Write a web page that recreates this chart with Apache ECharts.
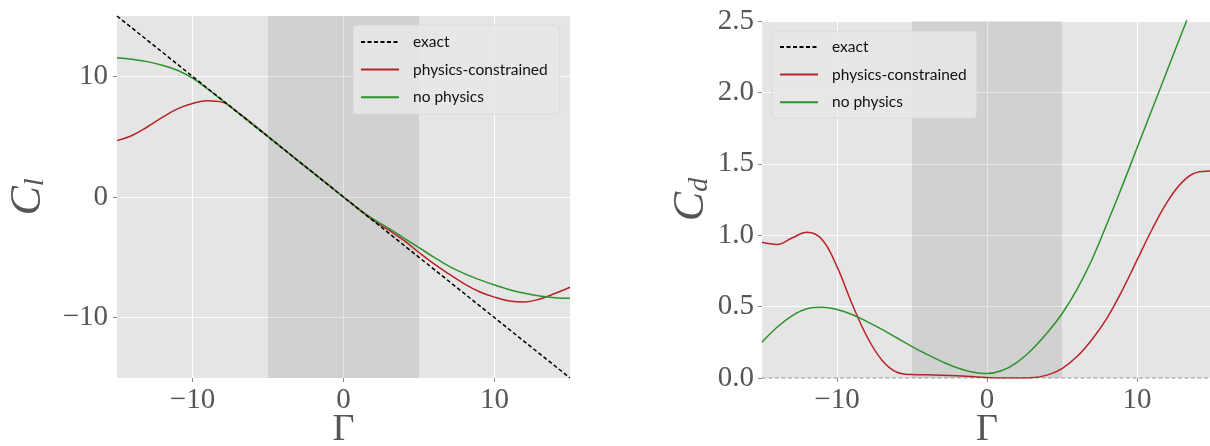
<!DOCTYPE html>
<html>
<head>
<meta charset="utf-8">
<script src="https://cdn.jsdelivr.net/npm/echarts@6/dist/echarts.min.js"></script>
<style>
  html, body { margin: 0; padding: 0; background: #fff; }
  #chart { width: 1210px; height: 446px; }
</style>
</head>
<body>
<div id="chart"></div>
<script>
// Γ sample points (shared by both panels)
const gamma = [-15, -14, -13, -12, -11, -10, -9, -8, -7, -6, -5, -4, -3, -2, -1, 0,
  1, 2, 3, 4, 5, 6, 7, 8, 9, 10, 11, 12, 13, 14, 15];

// lift coefficient C_l
const clExact = [15, 14, 13, 12, 11, 10, 9, 8, 7, 6, 5, 4, 3, 2, 1, 0,
  -1, -2, -3, -4, -5, -6, -7, -8, -9, -10, -11, -12, -13, -14, -15];
const clPhys = [4.67, 5.1, 5.8, 6.6, 7.3, 7.75, 7.98, 7.85, 7.02, 6.05, 5.03, 4.0, 3.0, 2.0, 1.0, 0,
  -1.0, -1.95, -2.75, -3.6, -4.6, -5.55, -6.4, -7.2, -7.85, -8.3, -8.62, -8.7, -8.45, -8.0, -7.48];
const clNoPhys = [11.54, 11.42, 11.22, 10.92, 10.5, 9.85, 8.95, 7.98, 7.0, 6.0, 5.0, 4.0, 3.0, 2.0, 1.0, 0,
  -0.98, -1.85, -2.6, -3.4, -4.2, -5.0, -5.75, -6.35, -6.85, -7.3, -7.68, -7.98, -8.2, -8.35, -8.4];

// drag coefficient C_d
const cdExact = [0, 0, 0, 0, 0, 0, 0, 0, 0, 0, 0, 0, 0, 0, 0, 0,
  0, 0, 0, 0, 0, 0, 0, 0, 0, 0, 0, 0, 0, 0, 0];
const cdPhys = [0.95, 0.935, 0.98, 1.02, 0.97, 0.78, 0.52, 0.29, 0.125, 0.04, 0.024, 0.022, 0.02, 0.016, 0.01, 0.004,
  0.0, 0.0, 0.002, 0.02, 0.066, 0.15, 0.27, 0.42, 0.61, 0.825, 1.04, 1.23, 1.37, 1.44, 1.45];
const cdNoPhys = [0.25, 0.355, 0.435, 0.485, 0.495, 0.48, 0.445, 0.395, 0.34, 0.28, 0.22, 0.165, 0.115, 0.072, 0.042, 0.031,
  0.052, 0.11, 0.2, 0.315, 0.45, 0.62, 0.83, 1.08, 1.34, 1.61, 1.88, 2.15, 2.42, 2.68, 2.93];

// tick labels
const xTicks = [-10, 0, 10];
const clTicks = [-10, 0, 10];
const seriesNames = ['exact', 'physics-constrained', 'no physics'];

const pairs = ys => gamma.map((g, i) => [g, ys[i]]);
const minus = v => (v < 0 ? '\u2212' + (-v) : String(v));

const RED = '#b8232a';
const GREEN = '#2c922c';
const TICK_FONT = 'Liberation Serif';

const tickLabel = {
  fontFamily: TICK_FONT,
  fontSize: 29,
  color: '#555'
};

const xAxisBase = (gridIndex) => ({
  type: 'value',
  gridIndex: gridIndex,
  min: -15,
  max: 15,
  axisLine: { show: false, onZero: false },
  axisTick: { show: true, length: 4, lineStyle: { color: '#888' }, customValues: xTicks },
  axisLabel: Object.assign({}, tickLabel, { margin: 8, customValues: xTicks, formatter: minus }),
  splitLine: { show: true, lineStyle: { color: '#fff', width: 1 } },
  name: 'Γ',
  nameLocation: 'middle',
  nameGap: 33,
  nameMoveOverlap: false,
  nameTextStyle: { fontFamily: TICK_FONT, fontSize: 38, color: '#555' }
});

const band = {
  silent: true,
  label: { show: false },
  itemStyle: { color: 'rgba(128,128,128,0.2)' },
  data: [[{ xAxis: -5 }, { xAxis: 5 }]]
};

const legendBase = {
  orient: 'vertical',
  itemWidth: 38,
  itemHeight: 14,
  itemGap: 11.6,
  backgroundColor: 'rgba(232,232,232,0.85)',
  borderColor: 'rgba(210,210,210,0.6)',
  borderWidth: 1,
  borderRadius: 4,
  selectedMode: false,
  data: seriesNames,
  itemStyle: { opacity: 0 },
  textStyle: { fontFamily: 'Lato', fontSize: 15.5, color: '#111', padding: [0, 0, 0, 9] }
};

const yName = {
  c: { fontFamily: TICK_FONT, fontStyle: 'italic', fontSize: 44, color: '#555' },
  s: { fontFamily: TICK_FONT, fontStyle: 'italic', fontSize: 28, color: '#555', verticalAlign: 'bottom', padding: [14, 0, 0, 0] }
};

const lineSeries = (name, idx, ys, color, extra) => Object.assign({
  name: name, type: 'line', xAxisIndex: idx, yAxisIndex: idx,
  data: pairs(ys), smooth: 0.4, showSymbol: false,
  lineStyle: { color: color, width: 1.5 }, itemStyle: { color: color }, z: 2
}, extra || {});

const chart = echarts.init(document.getElementById('chart'));
chart.setOption({
  animation: false,
  backgroundColor: '#fff',
  grid: [
    { left: 117, top: 16, width: 453, height: 362, show: true, backgroundColor: '#e5e5e5', borderWidth: 0, containLabel: false, outerBoundsMode: 'none' },
    { left: 762, top: 21, width: 450, height: 357, show: true, backgroundColor: '#e5e5e5', borderWidth: 0, containLabel: false, outerBoundsMode: 'none' }
  ],
  xAxis: [xAxisBase(0), xAxisBase(1)],
  yAxis: [
    {
      type: 'value', gridIndex: 0, min: -15, max: 15,
      axisLine: { show: false, onZero: false },
      axisTick: { show: true, length: 4, lineStyle: { color: '#888' }, customValues: clTicks },
      axisLabel: Object.assign({}, tickLabel, { margin: 9, customValues: clTicks, formatter: minus }),
      splitLine: { show: true, lineStyle: { color: '#fff', width: 1 } },
      name: '{c|C}{s|l}',
      nameLocation: 'middle',
      nameRotate: 90,
      nameGap: 67,
      nameTextStyle: { rich: yName }
    },
    {
      type: 'value', gridIndex: 1, min: 0, max: 2.5, interval: 0.5,
      axisLine: { show: false, onZero: false },
      axisTick: { show: true, length: 4, lineStyle: { color: '#888' } },
      axisLabel: Object.assign({}, tickLabel, { margin: 8, formatter: v => v.toFixed(1) }),
      splitLine: { show: true, lineStyle: { color: '#fff', width: 1 } },
      name: '{c|C}{s|d}',
      nameLocation: 'middle',
      nameRotate: 90,
      nameGap: 45,
      nameTextStyle: { rich: yName }
    }
  ],
  legend: [
    Object.assign({}, legendBase, { left: 353, top: 25, padding: [9, 12, 9, 7] }),
    Object.assign({}, legendBase, { left: 772, top: 31, padding: [8, 10, 8, 7] })
  ],
  series: [
    lineSeries('exact', 0, clExact, '#000', {
      smooth: false, lineStyle: { color: '#000', width: 1.5, type: [4, 2.5] }, markArea: band, z: 3
    }),
    lineSeries('physics-constrained', 0, clPhys, RED),
    lineSeries('no physics', 0, clNoPhys, GREEN),
    lineSeries('exact', 1, cdExact, '#000', {
      smooth: false, lineStyle: { color: '#aaa', width: 1.5, type: [4, 2.5] }, markArea: band, z: 1
    }),
    lineSeries('physics-constrained', 1, cdPhys, RED),
    lineSeries('no physics', 1, cdNoPhys, GREEN)
  ]
});
</script>
</body>
</html>
